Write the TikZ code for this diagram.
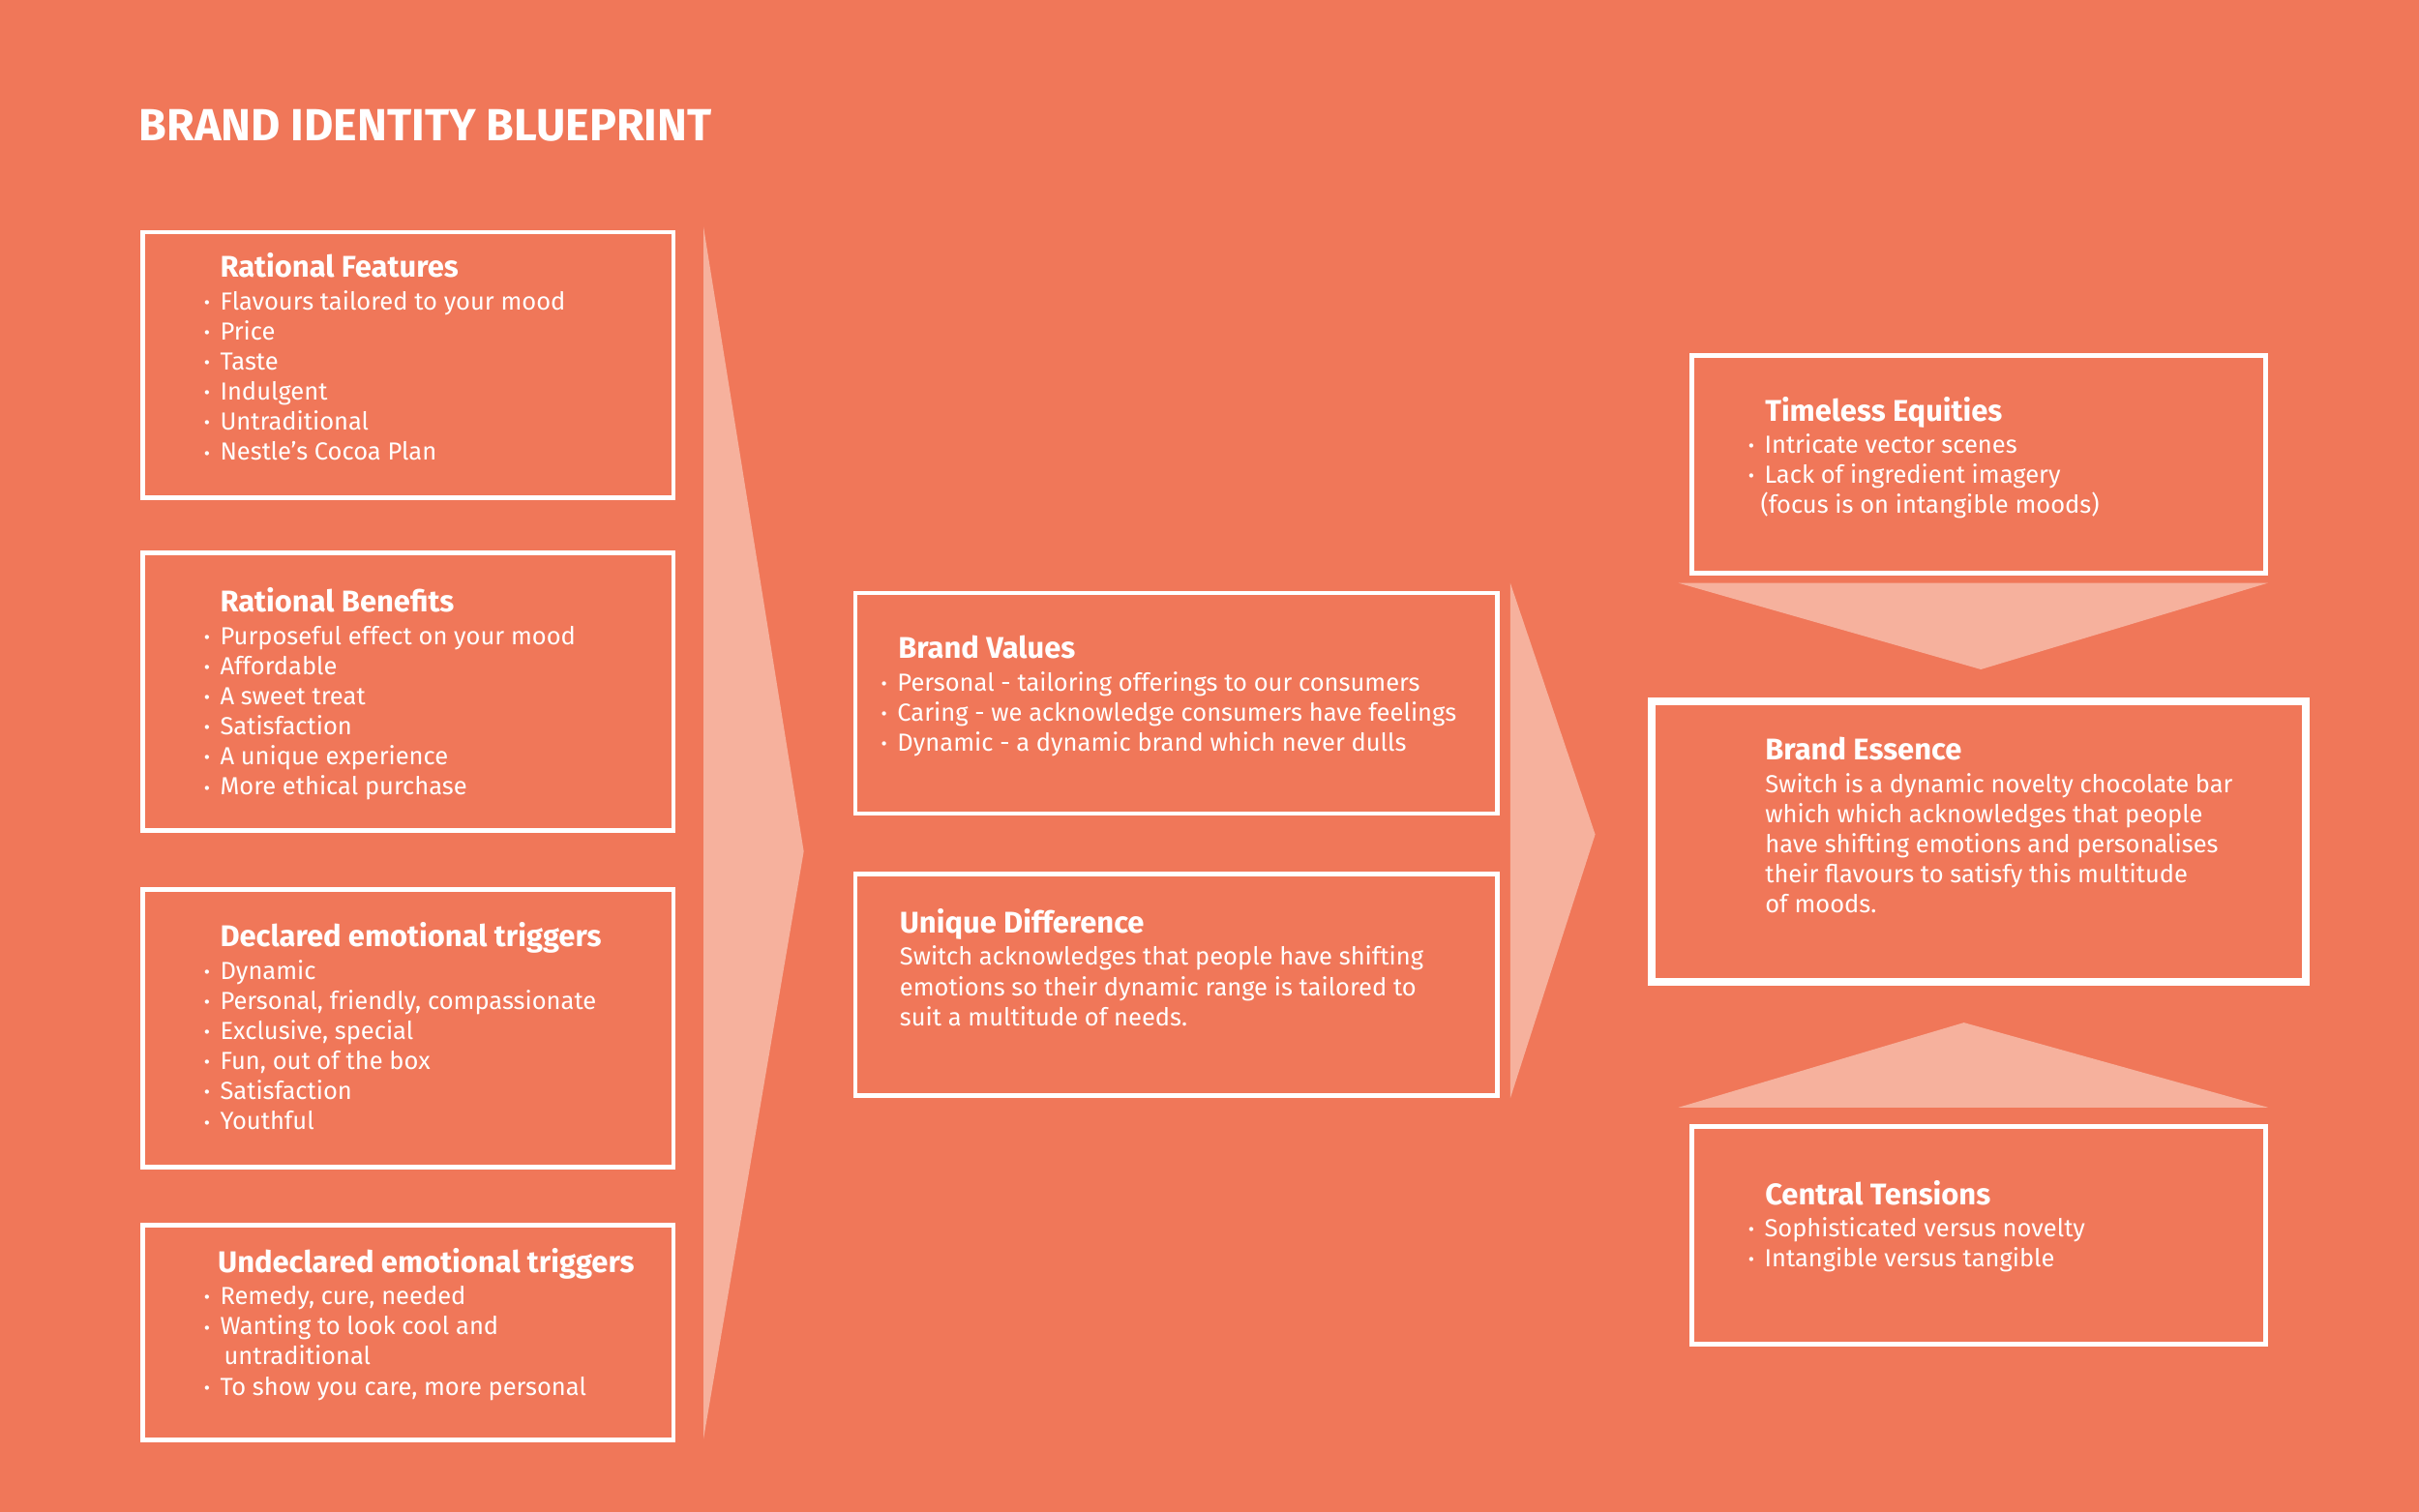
\documentclass[tikz,border=0pt]{standalone}
\usepackage{fontspec}
\setmainfont{Fira Sans}
\usetikzlibrary{positioning}

\definecolor{coral}{HTML}{F07759}
\definecolor{peach}{HTML}{F6B19D}

\newcommand{\bul}{\makebox[10.5pt][l]{\fontsize{12}{12}\selectfont\raisebox{0.5pt}{\textbullet}}}
\newcommand{\hd}[1]{{\bfseries\fontsize{19.4}{19.5}\selectfont #1}\\[1.5pt]}

\tikzset{
  card/.style={draw=white, line width=3pt, inner sep=0pt, anchor=north west},
  body/.style={text=white, align=left, inner sep=0pt, anchor=north west,
    font=\fontsize{16}{19.5}\selectfont}
}

\begin{document}
\begin{tikzpicture}[x=1pt,y=-1pt]

  % background
  \fill[coral] (0,0) rectangle (1568,980);
  \useasboundingbox (0,0) rectangle (1568,980);

  \node[text=white, anchor=base west, inner sep=0pt, font=\bfseries\fontsize{29.2}{30}\selectfont] (title) at (90,91) {BRAND IDENTITY BLUEPRINT};

  % arrows
  \fill[peach] (456,147) -- (521,552) -- (456,933) -- cycle;
  \fill[peach] (979,378) -- (1034,541) -- (979,712) -- cycle;
  \fill[peach] (1088,378) -- (1470,378) -- (1284,434) -- cycle;
  \fill[peach] (1088,718) -- (1470,718) -- (1273,663) -- cycle;

  % left column
  \node[card, minimum width=344, minimum height=172] (feat) at (91,149) {};
  \node[body] (featT) at ([shift={(41,15)}]feat.north west) {\hd{\hspace{10.5pt}Rational Features}
    \bul Flavours tailored to your mood\\
    \bul Price\\
    \bul Taste\\
    \bul Indulgent\\
    \bul Untraditional\\
    \bul Nestle’s Cocoa Plan};

  \node[card, minimum width=344, minimum height=180] (bene) at (91,357) {};
  \node[body] (beneT) at ([shift={(41,24)}]bene.north west) {\hd{\hspace{10.5pt}Rational Benefits}
    \bul Purposeful effect on your mood\\
    \bul Affordable\\
    \bul A sweet treat\\
    \bul Satisfaction\\
    \bul A unique experience\\
    \bul More ethical purchase};

  \node[card, minimum width=344, minimum height=180] (decl) at (91,575) {};
  \node[body] (declT) at ([shift={(41,23)}]decl.north west) {\hd{\hspace{10.5pt}Declared emotional triggers}
    \bul Dynamic\\
    \bul Personal, friendly, compassionate\\
    \bul Exclusive, special\\
    \bul Fun, out of the box\\
    \bul Satisfaction\\
    \bul Youthful};

  \node[card, minimum width=344, minimum height=139] (undecl) at (91,793) {};
  \node[body] (undeclT) at ([shift={(41,16)}]undecl.north west) {\hd{\hspace{9pt}Undeclared emotional triggers}
    \bul Remedy, cure, needed\\
    \bul Wanting to look cool and\\
    \hspace{13pt}untraditional\\
    \bul To show you care, more personal};

  % middle column
  \node[card, minimum width=416, minimum height=143] (vals) at (553,383) {};
  \node[body] (valsT) at ([shift={(18,29)}]vals.north west) {\hd{\hspace{11pt}Brand Values}
    \bul Personal - tailoring offerings to our consumers\\
    \bul Caring - we acknowledge consumers have feelings\\
    \bul Dynamic - a dynamic brand which never dulls};

  \node[card, minimum width=416, minimum height=144] (diff) at (553,565) {};
  \node[body] (diffT) at ([shift={(30,24)}]diff.north west) {\hd{Unique Difference}
    Switch acknowledges that people have shifting\\
    emotions so their dynamic range is tailored to\\
    suit a multitude of needs.};

  % right column
  \node[card, minimum width=372, minimum height=141] (equi) at (1095,229) {};
  \node[body] (equiT) at ([shift={(38,28)}]equi.north west) {\hd{\hspace{11pt}Timeless Equities}
    \bul Intricate vector scenes\\
    \bul Lack of ingredient imagery\\
    \hspace{8pt}(focus is on intangible moods)};

  \node[card, line width=5pt, minimum width=424, minimum height=182] (ess) at (1068,452) {};
  \node[body] (essT) at ([shift={(76,26)}]ess.north west) {\hd{Brand Essence}
    Switch is a dynamic novelty chocolate bar\\
    which which acknowledges that people\\
    have shifting emotions and personalises\\
    their flavours to satisfy this multitude\\
    of moods.};

  \node[card, minimum width=372, minimum height=141] (tens) at (1095,729) {};
  \node[body] (tensT) at ([shift={(38,36)}]tens.north west) {\hd{\hspace{11pt}Central Tensions}
    \bul Sophisticated versus novelty\\
    \bul Intangible versus tangible};

\end{tikzpicture}
\end{document}
